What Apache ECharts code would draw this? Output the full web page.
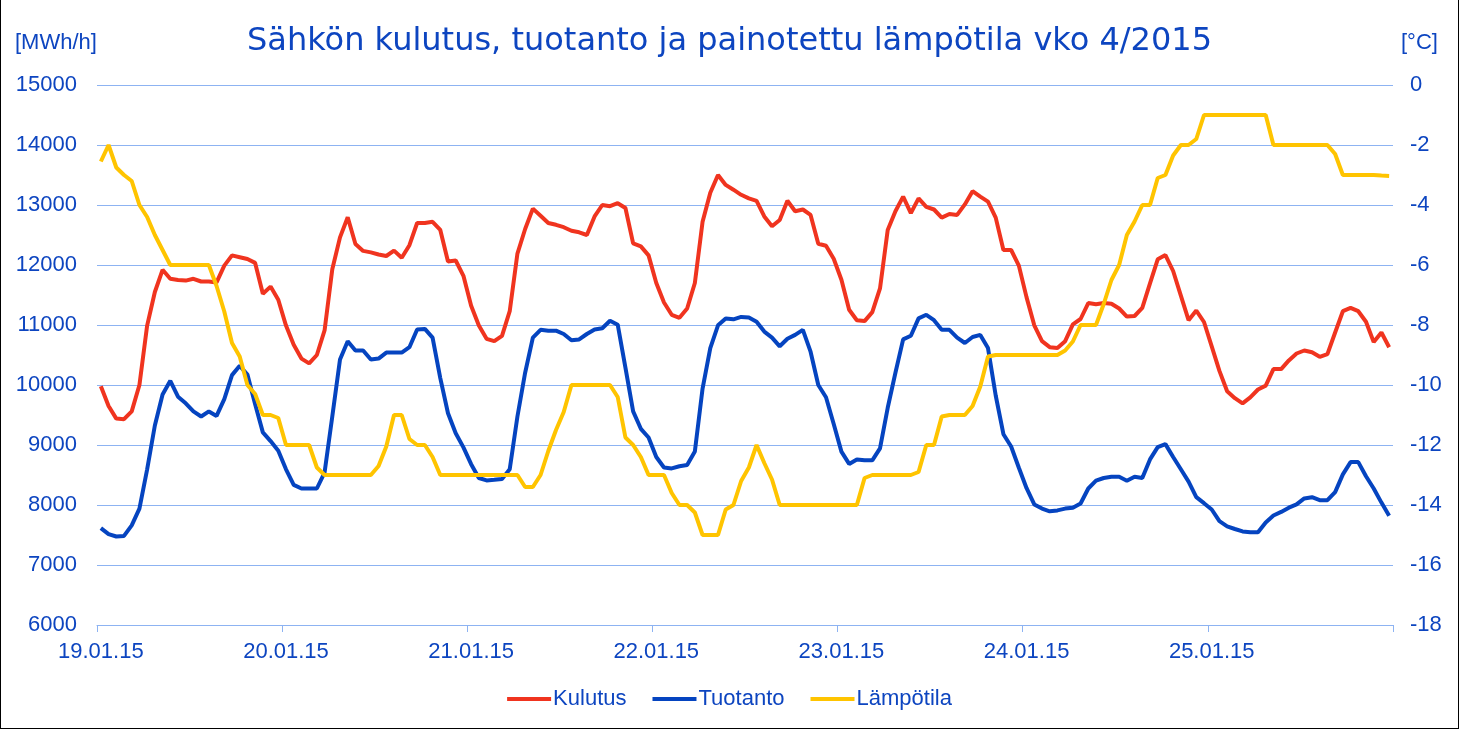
<!DOCTYPE html>
<html>
<head>
<meta charset="utf-8">
<script src="https://cdn.jsdelivr.net/npm/echarts@6/dist/echarts.min.js"></script>
<style>
html,body{margin:0;padding:0;background:#fff;}
#wrap{position:relative;width:1459px;height:729px;}
#chart{position:absolute;left:0;top:0;width:1459px;height:729px;}
#frame{position:absolute;left:0;top:0;width:1457px;height:728px;border-left:1px solid #000;border-right:1px solid #000;border-bottom:1px solid #000;pointer-events:none;}
</style>
</head>
<body>
<div id="wrap"><div id="chart"></div><div id="frame"></div></div>
<script>
const titleText = 'Sähkön kulutus, tuotanto ja painotettu lämpötila vko 4/2015';
const leftUnit = '[MWh/h]';
const rightUnit = '[°C]';
const days = ['19.01.15','20.01.15','21.01.15','22.01.15','23.01.15','24.01.15','25.01.15'];
const hours = ['00','01','02','03','04','05','06','07','08','09','10','11','12','13','14','15','16','17','18','19','20','21','22','23'];
const seriesNames = ['Kulutus','Tuotanto','Lämpötila'];

const kulutus = [
 9980, 9650, 9440, 9430, 9560, 10000, 10990, 11550, 11920, 11770, 11750, 11740, 11770, 11725, 11725, 11710, 11990, 12160, 12130, 12100, 12035, 11520, 11640, 11420,
 10990, 10670, 10440, 10360, 10500, 10910, 11930, 12460, 12795, 12350, 12235, 12210, 12175, 12150, 12240, 12120, 12330, 12700, 12700, 12720, 12585, 12060, 12075, 11820,
 11320, 10990, 10770, 10730, 10820, 11230, 12190, 12600, 12940, 12820, 12700, 12670, 12630, 12570, 12545, 12500, 12810, 13000, 12980, 13030, 12950, 12360, 12310, 12160,
 11700, 11375, 11170, 11120, 11275, 11700, 12720, 13205, 13500, 13335, 13255, 13170, 13110, 13070, 12810, 12645, 12750, 13070, 12895, 12925, 12835, 12355, 12320, 12105,
 11755, 11255, 11080, 11065, 11215, 11610, 12585, 12895, 13140, 12865, 13110, 12970, 12925, 12790, 12850, 12835, 13010, 13230, 13140, 13055, 12790, 12250, 12250, 11990,
 11460, 10995, 10730, 10630, 10615, 10730, 11010, 11100, 11365, 11345, 11365, 11355, 11275, 11140, 11150, 11285, 11695, 12095, 12165, 11900, 11490, 11080, 11240, 11050,
 10645, 10235, 9895, 9780, 9695, 9795, 9925, 9990, 10265, 10265, 10410, 10525, 10575, 10545, 10470, 10515, 10875, 11230, 11285, 11230, 11055, 10715, 10875, 10630
];
const tuotanto = [
 7615, 7515, 7475, 7485, 7660, 7940, 8595, 9325, 9840, 10070, 9805, 9695, 9560, 9475, 9560, 9485, 9765, 10165, 10320, 10175, 9680, 9210, 9065, 8905,
 8595, 8335, 8275, 8275, 8275, 8540, 9475, 10425, 10730, 10575, 10575, 10425, 10440, 10540, 10540, 10540, 10630, 10925, 10935, 10790, 10115, 9530, 9195, 8960,
 8680, 8450, 8410, 8420, 8435, 8595, 9475, 10205, 10790, 10920, 10905, 10905, 10850, 10745, 10760, 10850, 10925, 10945, 11070, 11005, 10290, 9560, 9270, 9125,
 8800, 8625, 8610, 8645, 8665, 8890, 9940, 10615, 10995, 11110, 11095, 11135, 11125, 11055, 10890, 10790, 10645, 10770, 10835, 10920, 10555, 10000, 9795, 9350,
 8890, 8685, 8760, 8745, 8745, 8945, 9620, 10205, 10760, 10820, 11110, 11170, 11080, 10920, 10920, 10790, 10700, 10800, 10835, 10615, 9825, 9180, 8975, 8620,
 8280, 8010, 7940, 7895, 7910, 7940, 7955, 8025, 8275, 8405, 8450, 8470, 8470, 8405, 8470, 8450, 8760, 8965, 9015, 8800, 8595, 8390, 8130, 8030,
 7925, 7730, 7645, 7600, 7560, 7545, 7545, 7710, 7825, 7885, 7955, 8010, 8110, 8130, 8080, 8080, 8215, 8510, 8715, 8715, 8480, 8275, 8040, 7820
];
const lampotila = [
 -2.55, -2.0, -2.75, -3.0, -3.2, -4.0, -4.4, -5.0, -5.5, -6.0, -6.0, -6.0, -6.0, -6.0, -6.0, -6.7, -7.55, -8.6, -9.05, -10.0, -10.3, -11.0, -11.0, -11.1,
 -12, -12, -12, -12, -12.75, -13, -13, -13, -13, -13, -13, -13, -12.7, -12.05, -11, -11, -11.8, -12, -12, -12.4, -13, -13, -13, -13,
 -13, -13, -13, -13, -13, -13, -13, -13.4, -13.4, -13, -12.2, -11.5, -10.9, -10, -10, -10, -10, -10, -10, -10.4, -11.75, -12, -12.4, -13,
 -13, -13, -13.6, -14, -14, -14.25, -15, -15, -15, -14.15, -14, -13.2, -12.75, -12, -12.6, -13.15, -14, -14, -14, -14, -14, -14, -14, -14,
 -14, -14, -14, -13.1, -13, -13, -13, -13, -13, -13, -12.9, -12, -12, -11.05, -11, -11, -11, -10.7, -10.05, -9.05, -9, -9, -9, -9,
 -9, -9, -9, -9, -9, -8.85, -8.55, -8, -8, -8, -7.3, -6.5, -6, -5, -4.55, -4, -4, -3.1, -3, -2.35, -2, -2, -1.8, -1,
 -1, -1, -1, -1, -1, -1, -1, -1, -2, -2, -2, -2, -2, -2, -2, -2, -2.3, -3, -3, -3, -3, -3, -3.02, -3.03
];

const categories = [];
days.forEach(d => hours.forEach(h => categories.push(d + ' ' + h)));

const textBlue = '#0D45C0';
const gridBlue = '#8DB3F2';
const fontFam = '"Liberation Sans", Arial, sans-serif';

const chart = echarts.init(document.getElementById('chart'));
chart.setOption({
  animation: false,
  backgroundColor: '#ffffff',
  textStyle: { fontFamily: fontFam },
  title: {
    text: titleText,
    left: 'center',
    top: 21,
    textStyle: { fontFamily: '"DejaVu Sans", sans-serif', fontSize: 32, fontWeight: 'normal', color: textBlue }
  },
  graphic: [
    { type: 'text', left: 15, top: 32, style: { text: leftUnit, fontSize: 22, fontFamily: fontFam, fill: textBlue } },
    { type: 'text', left: 1401, top: 32, style: { text: rightUnit, fontSize: 22, fontFamily: fontFam, fill: textBlue } }
  ],
  legend: {
    data: seriesNames,
    left: 'center',
    top: 683,
    icon: 'rect',
    itemWidth: 44,
    itemHeight: 4,
    itemGap: 26,
    textStyle: { fontSize: 22, color: textBlue, fontFamily: fontFam, padding: [0, 0, 0, -3] }
  },
  grid: { left: 97, right: 66, top: 85, bottom: 104, containLabel: false },
  xAxis: {
    type: 'category',
    data: categories,
    boundaryGap: true,
    axisLine: { onZero: false, lineStyle: { color: gridBlue, width: 1 } },
    axisTick: { show: true, interval: 23, length: 7, lineStyle: { color: gridBlue } },
    axisLabel: {
      interval: 23, margin: 16, fontSize: 22, color: textBlue, fontFamily: fontFam,
      formatter: v => v.split(' ')[0]
    },
    splitLine: { show: false }
  },
  yAxis: [
    {
      type: 'value', min: 6000, max: 15000, interval: 1000, position: 'left',
      axisLine: { show: false }, axisTick: { show: false },
      axisLabel: { margin: 20, fontSize: 22, color: textBlue, fontFamily: fontFam, formatter: v => String(v) },
      splitLine: { show: true, lineStyle: { color: gridBlue, width: 1 } }
    },
    {
      type: 'value', min: -18, max: 0, interval: 2, position: 'right',
      axisLine: { show: false }, axisTick: { show: false },
      axisLabel: { margin: 17, fontSize: 22, color: textBlue, fontFamily: fontFam, formatter: v => String(v) },
      splitLine: { show: false }
    }
  ],
  series: [
    { name: seriesNames[0], type: 'line', yAxisIndex: 0, data: kulutus, symbol: 'none', color: '#F0341F', lineStyle: { width: 4, color: '#F0341F' } },
    { name: seriesNames[1], type: 'line', yAxisIndex: 0, data: tuotanto, symbol: 'none', color: '#0544C0', lineStyle: { width: 4, color: '#0544C0' } },
    { name: seriesNames[2], type: 'line', yAxisIndex: 1, data: lampotila, symbol: 'none', color: '#FFC400', lineStyle: { width: 4, color: '#FFC400' } }
  ]
});
</script>
</body>
</html>
